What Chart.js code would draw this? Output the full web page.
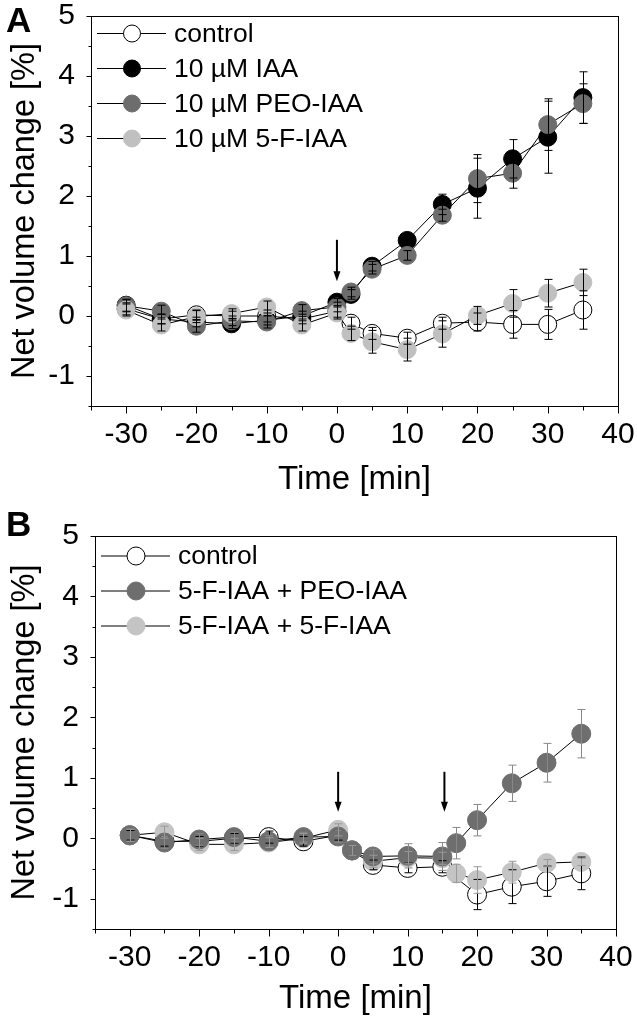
<!DOCTYPE html>
<html>
<head>
<meta charset="utf-8">
<script src="https://cdn.jsdelivr.net/npm/chart.js@4.4.0/dist/chart.umd.min.js"></script>
<style>
  body { margin:0; background:#fff; width:637px; height:1021px; position:relative; overflow:hidden; }
  canvas { position:absolute; left:0; }
  .panel { position:absolute; font-family:"Liberation Sans", Arial, sans-serif; font-weight:bold; font-size:35px; line-height:35px; color:#000; }
</style>
</head>
<body>
<canvas id="chartA" width="637" height="505" style="top:0px"></canvas>
<canvas id="chartB" width="637" height="516" style="top:505px"></canvas>
<div class="panel" style="left:6px;top:2px">A</div>
<div class="panel" style="left:6px;top:506px">B</div>
<script>
// axis ticks
var xMajor = [-30, -20, -10, 0, 10, 20, 30, 40];
var xMinor = [-35, -25, -15, -5, 5, 15, 25, 35];
var yMajor = [-1, 0, 1, 2, 3, 4, 5];
var yMinor = [-1.5, -0.5, 0.5, 1.5, 2.5, 3.5, 4.5];

// panel A
var timesA = [-30, -25, -20, -15, -10, -5, 0, 2, 5, 10, 15, 20, 25, 30, 35];
var controlA = [0.12, -0.05, 0.02, 0.0, 0.0, -0.05, 0.08, -0.12, -0.29, -0.37, -0.12, -0.1, -0.14, -0.14, 0.1];
var controlAErr = [0.1, 0.08, 0.08, 0.08, 0.1, 0.08, 0.1, 0.1, 0.1, 0.1, 0.1, 0.15, 0.23, 0.25, 0.32];
var iaaA = [0.18, -0.05, -0.1, -0.13, -0.07, 0.0, 0.23, 0.36, 0.83, 1.26, 1.86, 2.13, 2.62, 2.98, 3.64];
var iaaAErr = [0.1, 0.08, 0.08, 0.08, 0.08, 0.08, 0.06, 0.08, 0.08, 0.08, 0.17, 0.5, 0.32, 0.6, 0.43];
var peoA = [0.17, 0.08, -0.17, -0.08, -0.1, 0.09, 0.15, 0.4, 0.78, 1.01, 1.68, 2.29, 2.38, 3.19, 3.54];
var peoAErr = [0.1, 0.1, 0.1, 0.08, 0.1, 0.1, 0.08, 0.08, 0.08, 0.08, 0.1, 0.4, 0.25, 0.43, 0.33];
var fiveFA = [0.1, -0.15, -0.01, 0.04, 0.15, -0.15, 0.05, -0.29, -0.43, -0.56, -0.3, 0.01, 0.21, 0.38, 0.56];
var fiveFAErr = [0.1, 0.1, 0.1, 0.08, 0.1, 0.1, 0.1, 0.12, 0.19, 0.19, 0.22, 0.15, 0.23, 0.23, 0.22];
var arrowTimesA = [0];
var arrowTopA = 1.27, arrowTipA = 0.58;

// panel B
var timesBControl = [-30, -25, -20, -15, -10, -5, 0, 2, 5, 10, 15, 20, 25, 30, 35];
var timesB = [-30, -25, -20, -15, -10, -5, 0, 2, 5, 10, 15, 17, 20, 25, 30, 35];
var controlB = [0.05, -0.05, -0.05, 0.0, 0.02, -0.05, 0.05, -0.2, -0.44, -0.49, -0.47, -0.93, -0.8, -0.71, -0.58];
var controlBErr = [0.08, 0.08, 0.08, 0.08, 0.1, 0.08, 0.08, 0.08, 0.08, 0.08, 0.1, 0.25, 0.28, 0.25, 0.27];
var peoB = [0.05, -0.07, -0.02, 0.02, -0.05, 0.02, 0.03, -0.2, -0.3, -0.29, -0.3, -0.08, 0.3, 0.91, 1.25, 1.73];
var peoBErr = [0.1, 0.1, 0.1, 0.08, 0.1, 0.08, 0.1, 0.08, 0.12, 0.2, 0.23, 0.26, 0.26, 0.3, 0.32, 0.4];
var fiveFB = [0.05, 0.1, -0.1, -0.1, -0.07, 0.0, 0.14, -0.2, -0.38, -0.32, -0.33, -0.58, -0.69, -0.56, -0.41, -0.39];
var fiveFBErr = [0.1, 0.1, 0.1, 0.1, 0.08, 0.08, 0.1, 0.08, 0.1, 0.1, 0.1, 0.15, 0.22, 0.18, 0.06, 0.06];
var arrowTimesB = [0, 15.3];
var arrowTopB = 1.1, arrowTipB = 0.44;

var FONT = '"Liberation Sans", Arial, sans-serif';

function pts(xs, ys) {
  return xs.map(function(x, i) { return {x: x, y: ys[i]}; });
}

function series(label, xs, ys, errs, fill, edge, errColor, order, radius) {
  return {
    label: label,
    data: pts(xs, ys),
    errors: errs,
    errColor: errColor,
    order: order,
    borderColor: '#000',
    borderWidth: 1,
    tension: 0,
    pointRadius: radius,
    pointHoverRadius: radius,
    pointBorderWidth: 1,
    pointBackgroundColor: fill,
    pointBorderColor: edge
  };
}

// frame, tick marks, error bars, arrows and legend
var decor = {
  id: 'decor',
  afterDatasetsDraw: function(chart, args, o) {
    var ctx = chart.ctx, xs = chart.scales.x, ys = chart.scales.y, a = chart.chartArea;
    ctx.save();
    ctx.lineWidth = 1;

    // error bars
    chart.data.datasets.forEach(function(ds, i) {
      var meta = chart.getDatasetMeta(i);
      ctx.strokeStyle = ds.errColor;
      ds.errors.forEach(function(e, j) {
        var px = Math.round(meta.data[j].x) + 0.5;
        var v = ds.data[j].y;
        var y1 = ys.getPixelForValue(v + e), y2 = ys.getPixelForValue(v - e);
        ctx.beginPath();
        ctx.moveTo(px, y1); ctx.lineTo(px, y2);
        ctx.moveTo(px - 4, y1); ctx.lineTo(px + 4, y1);
        ctx.moveTo(px - 4, y2); ctx.lineTo(px + 4, y2);
        ctx.stroke();
      });
    });

    // frame
    ctx.strokeStyle = '#000';
    ctx.strokeRect(Math.round(a.left) + 0.5, Math.round(a.top) + 0.5, Math.round(a.width), Math.round(a.height));
    var b = Math.round(a.bottom) + 0.5, l = Math.round(a.left) + 0.5;
    ctx.beginPath();
    xMajor.forEach(function(v) { var p = Math.round(xs.getPixelForValue(v)) + 0.5; ctx.moveTo(p, b); ctx.lineTo(p, b + 7); });
    xMinor.forEach(function(v) { var p = Math.round(xs.getPixelForValue(v)) + 0.5; ctx.moveTo(p, b); ctx.lineTo(p, b + 4); });
    yMajor.forEach(function(v) { var p = Math.round(ys.getPixelForValue(v)) + 0.5; ctx.moveTo(l, p); ctx.lineTo(l - 5, p); });
    yMinor.forEach(function(v) { var p = Math.round(ys.getPixelForValue(v)) + 0.5; ctx.moveTo(l, p); ctx.lineTo(l - 3, p); });
    ctx.stroke();

    // arrows
    ctx.fillStyle = '#000';
    ctx.lineWidth = 2;
    o.arrows.forEach(function(t) {
      var px = xs.getPixelForValue(t);
      var yt = ys.getPixelForValue(o.arrowTop), yb = ys.getPixelForValue(o.arrowTip);
      ctx.beginPath(); ctx.moveTo(px, yt); ctx.lineTo(px, yb - 8); ctx.stroke();
      ctx.beginPath(); ctx.moveTo(px - 3.5, yb - 10); ctx.lineTo(px + 3.5, yb - 10); ctx.lineTo(px, yb); ctx.closePath(); ctx.fill();
    });

    // legend inside the plot
    ctx.lineWidth = 1;
    ctx.font = '26.5px ' + FONT;
    ctx.textBaseline = 'middle';
    ctx.textAlign = 'left';
    chart.data.datasets.forEach(function(ds, i) {
      var y = a.top + o.legendTop + i * 35;
      ctx.strokeStyle = '#000';
      ctx.beginPath(); ctx.moveTo(a.left + 6, y); ctx.lineTo(a.left + 75, y); ctx.stroke();
      ctx.beginPath(); ctx.arc(a.left + 41, y, ds.pointRadius - 0.5, 0, Math.PI * 2);
      ctx.fillStyle = ds.pointBackgroundColor; ctx.fill();
      ctx.strokeStyle = ds.pointBorderColor; ctx.stroke();
      ctx.fillStyle = '#000';
      ctx.fillText(ds.label, a.left + 83, y + 1);
    });
    ctx.restore();
  }
};

function makeChart(id, datasets, lay) {
  var ctx = document.getElementById(id).getContext('2d');
  return new Chart(ctx, {
    type: 'line',
    data: { datasets: datasets },
    options: {
      responsive: false,
      animation: false,
      events: [],
      layout: { padding: { top: lay.top, right: lay.right, left: 0, bottom: 0 } },
      plugins: {
        legend: { display: false },
        tooltip: { enabled: false },
        decor: { arrows: lay.arrows, arrowTop: lay.arrowTop, arrowTip: lay.arrowTip, legendTop: lay.legendTop }
      },
      scales: {
        x: {
          type: 'linear', min: -35, max: 40,
          afterBuildTicks: function(s) { s.ticks = xMajor.map(function(v) { return {value: v}; }); },
          afterFit: function(s) { s.height = lay.xHeight; s.paddingLeft = 0; s.paddingRight = 0; },
          grid: { display: false, drawTicks: false },
          border: { display: false },
          ticks: { color: '#000', padding: 11, maxRotation: 0, autoSkip: false, font: { family: FONT, size: 30 } },
          title: { display: true, text: 'Time [min]', color: '#000', font: { family: FONT, size: 33 }, padding: { top: 0, bottom: lay.titlePad } }
        },
        y: {
          min: -1.5, max: 5,
          afterBuildTicks: function(s) { s.ticks = yMajor.map(function(v) { return {value: v}; }); },
          afterFit: function(s) { s.width = lay.yWidth; s.paddingTop = 0; s.paddingBottom = 0; },
          grid: { display: false, drawTicks: false },
          border: { display: false },
          ticks: { color: '#000', padding: 16, font: { family: FONT, size: 30 } },
          title: { display: true, text: 'Net volume change [%]', color: '#000', font: { family: FONT, size: 32.5 }, padding: { top: 6, bottom: 0 } }
        }
      }
    },
    plugins: [decor]
  });
}

makeChart('chartA', [
  series('control', timesA, controlA, controlAErr, '#ffffff', '#000000', '#000', 4, 9),
  series('10 µM IAA', timesA, iaaA, iaaAErr, '#000000', '#000000', '#000', 3, 9),
  series('10 µM PEO-IAA', timesA, peoA, peoAErr, '#6d6d6d', '#6d6d6d', '#000', 2, 9),
  series('10 µM 5-F-IAA', timesA, fiveFA, fiveFAErr, '#c0c0c0', '#c0c0c0', '#000', 1, 9)
], { top: 16, right: 19, yWidth: 91, xHeight: 99, titlePad: 5, legendTop: 17.5, arrows: arrowTimesA, arrowTop: arrowTopA, arrowTip: arrowTipA });

makeChart('chartB', [
  series('control', timesBControl, controlB, controlBErr, '#ffffff', '#000000', '#000', 3, 9.5),
  series('5-F-IAA + PEO-IAA', timesB, peoB, peoBErr, '#6e6e6e', '#6e6e6e', '#888', 1, 9.5),
  series('5-F-IAA + 5-F-IAA', timesB, fiveFB, fiveFBErr, '#c4c4c4', '#c4c4c4', '#999', 2, 9.5)
], { top: 31, right: 21, yWidth: 95, xHeight: 92, titlePad: 2, legendTop: 20, arrows: arrowTimesB, arrowTop: arrowTopB, arrowTip: arrowTipB });
</script>
</body>
</html>
